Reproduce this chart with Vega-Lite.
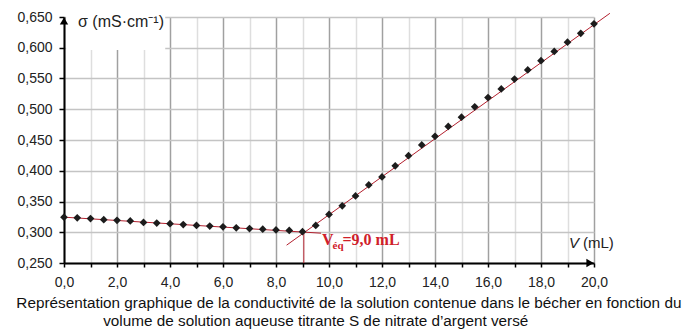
{
  "$schema": "https://vega.github.io/schema/vega-lite/v6.json",
  "width": 530,
  "height": 246,
  "autosize": {"type": "none"},
  "padding": {"left": 64, "top": 17, "right": 93, "bottom": 70},
  "background": "white",
  "config": {"view": {"stroke": null}, "font": "Liberation Sans"},
  "datasets": {
    "meas": [
      {"V": 0, "sigma": 0.3245}, {"V": 0.5, "sigma": 0.3235}, {"V": 1, "sigma": 0.3222}, {"V": 1.5, "sigma": 0.3205},
      {"V": 2, "sigma": 0.3195}, {"V": 2.5, "sigma": 0.3183}, {"V": 3, "sigma": 0.316}, {"V": 3.5, "sigma": 0.315},
      {"V": 4, "sigma": 0.314}, {"V": 4.5, "sigma": 0.3125}, {"V": 5, "sigma": 0.311}, {"V": 5.5, "sigma": 0.31},
      {"V": 6, "sigma": 0.3088}, {"V": 6.5, "sigma": 0.3072}, {"V": 7, "sigma": 0.306}, {"V": 7.5, "sigma": 0.305},
      {"V": 8, "sigma": 0.3037}, {"V": 8.5, "sigma": 0.303}, {"V": 9, "sigma": 0.301}, {"V": 9.5, "sigma": 0.311},
      {"V": 10, "sigma": 0.329}, {"V": 10.5, "sigma": 0.343}, {"V": 11, "sigma": 0.359}, {"V": 11.5, "sigma": 0.377},
      {"V": 12, "sigma": 0.39}, {"V": 12.5, "sigma": 0.408}, {"V": 13, "sigma": 0.4245}, {"V": 13.5, "sigma": 0.442},
      {"V": 14, "sigma": 0.456}, {"V": 14.5, "sigma": 0.472}, {"V": 15, "sigma": 0.487}, {"V": 15.5, "sigma": 0.504},
      {"V": 16, "sigma": 0.519}, {"V": 16.5, "sigma": 0.533}, {"V": 17, "sigma": 0.549}, {"V": 17.5, "sigma": 0.564},
      {"V": 18, "sigma": 0.579}, {"V": 18.5, "sigma": 0.594}, {"V": 19, "sigma": 0.609}, {"V": 19.5, "sigma": 0.6235},
      {"V": 20, "sigma": 0.639}
    ],
    "fits": [
      {"seg": "a", "V": 0, "sigma": 0.3245}, {"seg": "a", "V": 9.7, "sigma": 0.2985},
      {"seg": "b", "V": 8.4, "sigma": 0.279}, {"seg": "b", "V": 20.6, "sigma": 0.656},
      {"seg": "c", "V": 9.05, "sigma": 0.3}, {"seg": "c", "V": 9.05, "sigma": 0.25}
    ],
    "one": [{}]
  },
  "layer": [
    {
      "data": {"name": "meas"},
      "mark": {"type": "point", "opacity": 0},
      "encoding": {
        "x": {
          "field": "V", "type": "quantitative",
          "scale": {"domain": [0, 20], "nice": false, "zero": false},
          "axis": {
            "title": null,
            "values": [0,1,2,3,4,5,6,7,8,9,10,11,12,13,14,15,16,17,18,19,20],
            "tickCount": 100,
            "labelExpr": "datum.value % 2 === 0 ? replace(format(datum.value, '.1f'), '.', ',') : ''",
            "labelFont": "Liberation Sans", "labelFontSize": 14, "labelColor": "#222",
            "labelFlush": false, "labelOverlap": false,
            "labelPadding": 8, "tickSize": 4, "tickColor": "#000", "tickWidth": 1.5,
            "domainColor": "#000", "domainWidth": 2,
            "grid": true,
            "gridColor": {"condition": {"test": "datum.value % 2 === 0", "value": "#a0a0a0"}, "value": "#dedede"},
            "gridWidth": 1.5
          }
        },
        "y": {
          "field": "sigma", "type": "quantitative",
          "scale": {"domain": [0.25, 0.65], "nice": false, "zero": false},
          "axis": {
            "title": null,
            "values": [0.25,0.3,0.35,0.4,0.45,0.5,0.55,0.6,0.65],
            "tickCount": 100,
            "labelExpr": "replace(format(datum.value, '.3f'), '.', ',')",
            "labelFont": "Liberation Sans", "labelFontSize": 14, "labelColor": "#222",
            "labelFlush": false, "labelOverlap": false,
            "labelPadding": 7, "tickSize": 5, "tickColor": "#000", "tickWidth": 1.5,
            "domainColor": "#000", "domainWidth": 2,
            "grid": true, "gridColor": "#c4c4c4", "gridWidth": 1.5
          }
        }
      }
    },
    {
      "data": {"name": "one"},
      "mark": {"type": "rect", "fill": "white"},
      "encoding": {
        "x": {"datum": 0.08, "type": "quantitative"},
        "x2": {"datum": 3.82},
        "y": {"datum": 0.5965, "type": "quantitative"},
        "y2": {"datum": 0.653}
      }
    },
    {
      "data": {"name": "fits"},
      "mark": {"type": "line", "color": "#b3202e", "strokeWidth": 1, "clip": false},
      "encoding": {
        "x": {"field": "V", "type": "quantitative"},
        "y": {"field": "sigma", "type": "quantitative"},
        "detail": {"field": "seg"}
      }
    },
    {
      "data": {"name": "meas"},
      "mark": {"type": "point", "shape": "diamond", "filled": true, "size": 60, "color": "#1c1c1c", "opacity": 1},
      "encoding": {
        "x": {"field": "V", "type": "quantitative"},
        "y": {"field": "sigma", "type": "quantitative"}
      }
    },
    {
      "data": {"name": "one"},
      "mark": {"type": "point", "shape": "triangle-right", "filled": true, "size": 70, "color": "#000", "opacity": 1},
      "encoding": {
        "x": {"datum": 20, "type": "quantitative"},
        "y": {"datum": 0.25, "type": "quantitative"},
        "xOffset": {"value": -4}
      }
    },
    {
      "data": {"name": "one"},
      "mark": {"type": "point", "shape": "triangle-up", "filled": true, "size": 70, "color": "#000", "opacity": 1},
      "encoding": {
        "x": {"datum": 0, "type": "quantitative"},
        "y": {"datum": 0.65, "type": "quantitative"},
        "yOffset": {"value": 4}
      }
    },
    {
      "data": {"name": "one"},
      "mark": {"type": "text", "text": "σ (mS·cm⁻¹)", "font": "Liberation Sans", "fontSize": 16, "color": "#222", "align": "left", "baseline": "alphabetic", "dx": 14, "dy": 10},
      "encoding": {
        "x": {"datum": 0, "type": "quantitative"},
        "y": {"datum": 0.65, "type": "quantitative"}
      }
    },
    {
      "data": {"name": "one"},
      "mark": {"type": "text", "text": "V", "font": "Liberation Sans", "fontSize": 15, "fontStyle": "italic", "color": "#222", "align": "left", "baseline": "alphabetic", "dx": -25, "dy": -15},
      "encoding": {
        "x": {"datum": 20, "type": "quantitative"},
        "y": {"datum": 0.25, "type": "quantitative"}
      }
    },
    {
      "data": {"name": "one"},
      "mark": {"type": "text", "text": "(mL)", "font": "Liberation Sans", "fontSize": 15, "color": "#222", "align": "left", "baseline": "alphabetic", "dx": -11, "dy": -15},
      "encoding": {
        "x": {"datum": 20, "type": "quantitative"},
        "y": {"datum": 0.25, "type": "quantitative"}
      }
    },
    {
      "data": {"name": "one"},
      "mark": {"type": "text", "text": "V", "font": "Liberation Serif", "fontSize": 16, "fontWeight": "bold", "color": "#d0202a", "align": "left", "baseline": "alphabetic", "dx": 19.5, "dy": -18},
      "encoding": {
        "x": {"datum": 9, "type": "quantitative"},
        "y": {"datum": 0.25, "type": "quantitative"}
      }
    },
    {
      "data": {"name": "one"},
      "mark": {"type": "text", "text": "éq", "font": "Liberation Serif", "fontSize": 11, "fontWeight": "bold", "color": "#d0202a", "align": "left", "baseline": "alphabetic", "dx": 30, "dy": -14},
      "encoding": {
        "x": {"datum": 9, "type": "quantitative"},
        "y": {"datum": 0.25, "type": "quantitative"}
      }
    },
    {
      "data": {"name": "one"},
      "mark": {"type": "text", "text": "=9,0 mL", "font": "Liberation Serif", "fontSize": 16, "fontWeight": "bold", "color": "#d0202a", "align": "left", "baseline": "alphabetic", "dx": 40, "dy": -18},
      "encoding": {
        "x": {"datum": 9, "type": "quantitative"},
        "y": {"datum": 0.25, "type": "quantitative"}
      }
    },
    {
      "data": {"name": "one"},
      "mark": {"type": "text", "text": "Représentation graphique de la conductivité de la solution contenue dans le bécher en fonction du", "font": "Liberation Sans", "fontSize": 15.3, "color": "#111", "align": "center", "baseline": "middle", "dy": 40},
      "encoding": {
        "x": {"datum": 10.75, "type": "quantitative"},
        "y": {"datum": 0.25, "type": "quantitative"}
      }
    },
    {
      "data": {"name": "one"},
      "mark": {"type": "text", "text": "volume de solution aqueuse titrante S de nitrate d’argent versé", "font": "Liberation Sans", "fontSize": 15.3, "color": "#111", "align": "center", "baseline": "middle", "dy": 58},
      "encoding": {
        "x": {"datum": 9.5, "type": "quantitative"},
        "y": {"datum": 0.25, "type": "quantitative"}
      }
    }
  ]
}
